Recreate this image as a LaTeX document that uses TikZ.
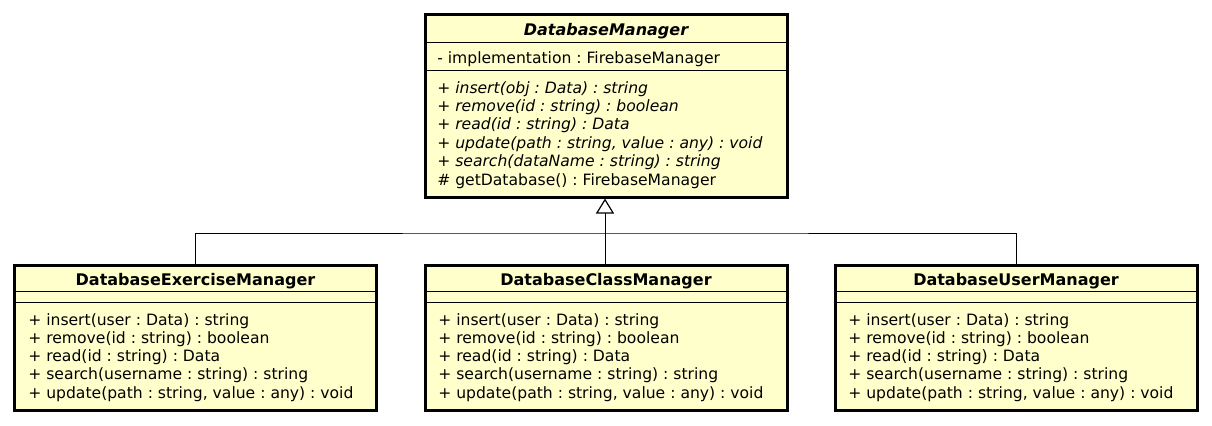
\documentclass[tikz,border=0pt]{standalone}
\usepackage{fontspec}
\setmainfont{DejaVu Sans}
\usetikzlibrary{arrows.meta}
\definecolor{umlfill}{HTML}{FFFFCC}
\begin{document}
\frenchspacing
\begin{tikzpicture}[x=0.75pt,y=-0.75pt,
  font=\fontsize{11.7}{14}\selectfont\frenchspacing,
  classbox/.style={draw, line width=2.25pt, fill=umlfill, rectangle, inner sep=0, minimum width=271.5pt},
  sepline/.style={line width=1pt},
  txt/.style={anchor=base west, inner sep=0},
  ttl/.style={anchor=base, inner sep=0, font=\fontsize{12}{14}\selectfont\bfseries},
  conn/.style={line width=0.75pt}]
\useasboundingbox (0,0) rectangle (1212,425);

% boxes
\node[classbox, minimum height=136.9pt] (top) at (606,105.75) {};
\node[classbox, minimum height=108.75pt] (left) at (195.5,337.5) {};
\node[classbox, minimum height=108.75pt] (mid) at (606,337.5) {};
\node[classbox, minimum height=108.75pt] (right) at (1016,337.5) {};

% top class
\node[ttl] (t0) at (606,35) {\itshape DatabaseManager};
\draw[sepline] (top.west |- 0,42.5) -- (top.east |- 0,42.5);
\node[txt] (t1) at (437,63) {- implementation : FirebaseManager};
\draw[sepline] (top.west |- 0,70.5) -- (top.east |- 0,70.5);
\node[txt] (t2) at (437,93) {\itshape + insert(obj : Data) : string};
\node[txt] (t3) at (437,111.4) {\itshape + remove(id : string) : boolean};
\node[txt] (t4) at (437,129.8) {\itshape + read(id : string) : Data};
\node[txt] (t5) at (437,148.2) {\itshape + update(path : string, value : any) : void};
\node[txt] (t6) at (437,166.6) {\itshape + search(dataName : string) : string};
\node[txt] (t7) at (437,185) {\# getDatabase() : FirebaseManager};

% bottom classes
\foreach \b/\x/\name in {left/28/DatabaseExerciseManager, mid/438/DatabaseClassManager, right/848/DatabaseUserManager}{
  \node[ttl] (\b-title) at (\b.center |- 0,285) {\name};
  \draw[sepline] (\b.west |- 0,291.5) -- (\b.east |- 0,291.5);
  \draw[sepline] (\b.west |- 0,302.5) -- (\b.east |- 0,302.5);
  \node[txt] (\b-m1) at (\x,325) {+ insert(user : Data) : string};
  \node[txt] (\b-m2) at (\x,343.3) {+ remove(id : string) : boolean};
  \node[txt] (\b-m3) at (\x,361.6) {+ read(id : string) : Data};
  \node[txt] (\b-m4) at (\x,379.9) {+ search(username : string) : string};
  \node[txt] (\b-m5) at (\x,398.2) {+ update(path : string, value : any) : void};
}

% connectors
\coordinate (j) at (605,233);
\draw[conn] (left.north) |- (j) -| (right.north);
\draw[conn, -{Triangle[open, length=11.25pt, width=13.5pt, line width=0.9pt]}] (mid.north -| j) -- (top.south -| j);
\end{tikzpicture}
\end{document}
